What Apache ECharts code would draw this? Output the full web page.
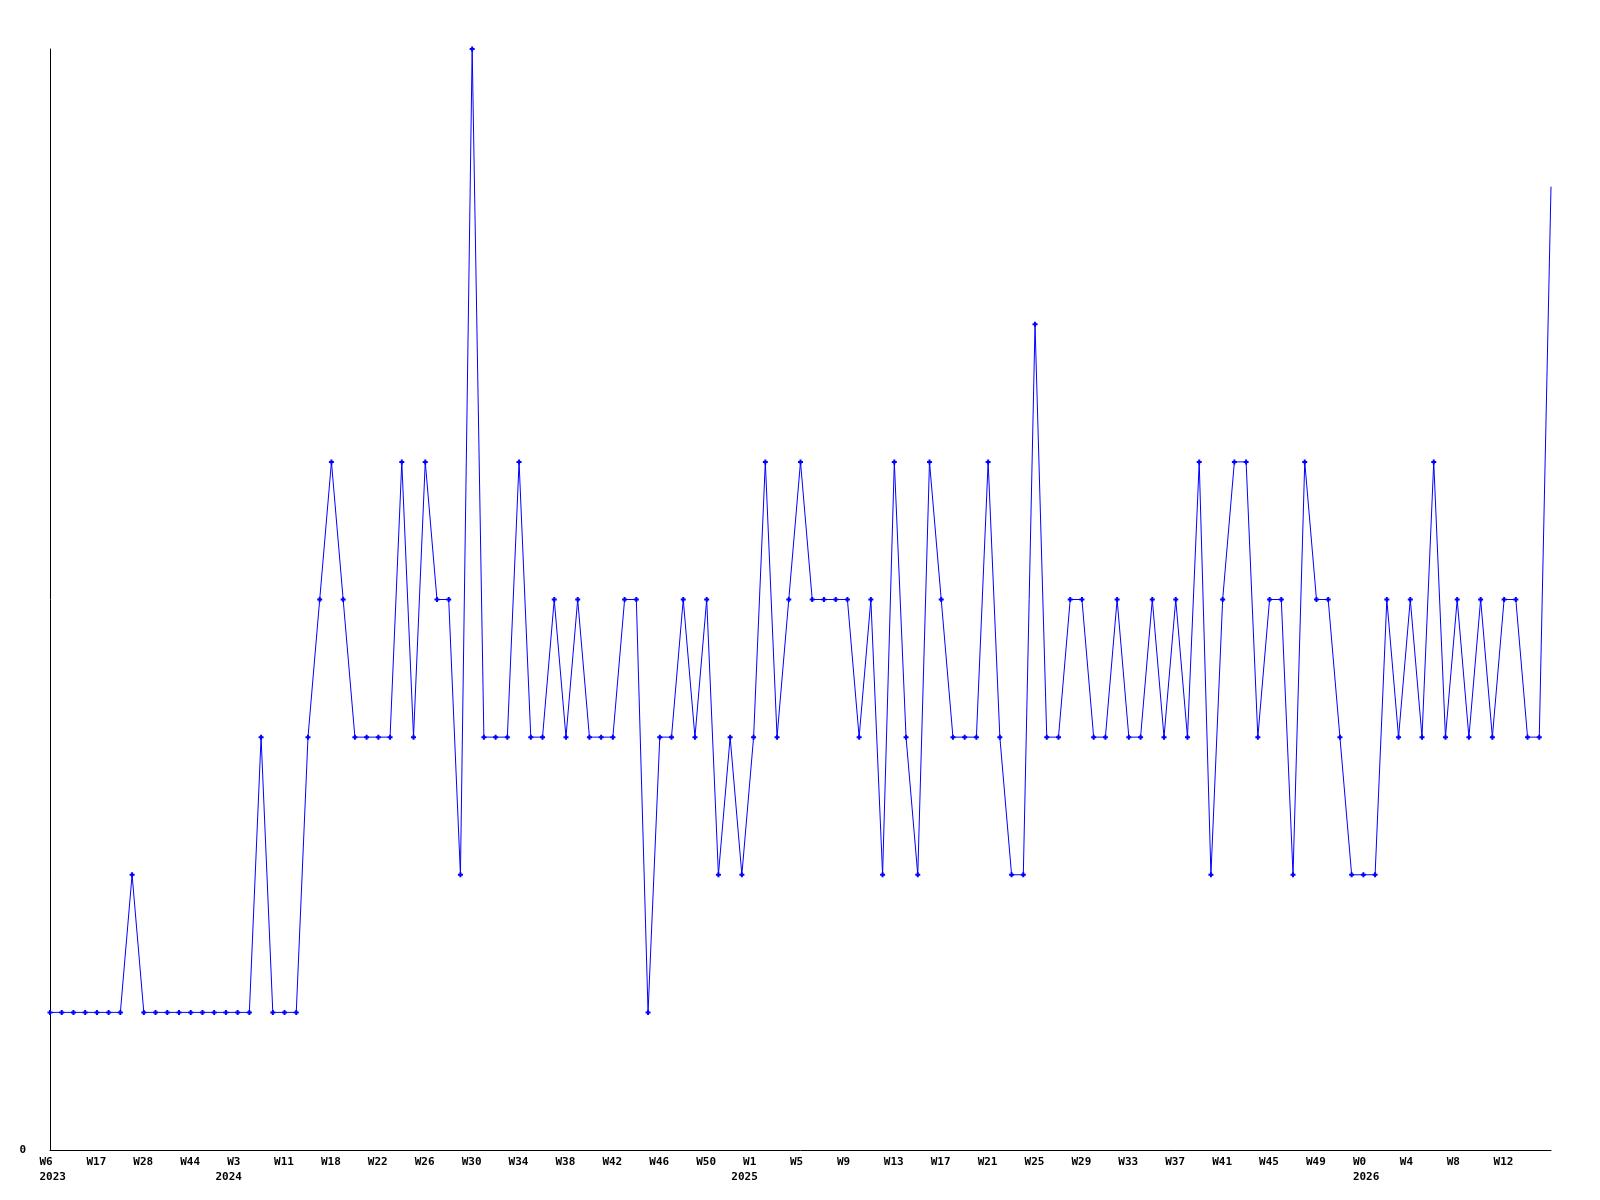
<!DOCTYPE html>
<html>
<head>
<meta charset="utf-8">
<script src="https://cdn.jsdelivr.net/npm/echarts@6/dist/echarts.min.js"></script>
<style>
html,body{margin:0;padding:0;background:#fff;}
#chart{width:1600px;height:1200px;}
</style>
</head>
<body>
<div id="chart"></div>
<script>
// Categories: "YEAR Wn"
const categories = [
  "2023 W6","2023 W9","2023 W11","2023 W14","2023 W17","2023 W20","2023 W22","2023 W25",
  "2023 W28","2023 W32","2023 W36","2023 W40","2023 W44","2023 W47","2023 W50",
  "2024 W1","2024 W3","2024 W5","2024 W7","2024 W9","2024 W11","2024 W14","2024 W16","2024 W17",
  "2024 W18","2024 W19","2024 W20","2024 W21","2024 W22","2024 W23","2024 W24","2024 W25",
  "2024 W26","2024 W27","2024 W28","2024 W29","2024 W30","2024 W31","2024 W32","2024 W33",
  "2024 W34","2024 W35","2024 W36","2024 W37","2024 W38","2024 W39","2024 W40","2024 W41",
  "2024 W42","2024 W43","2024 W44","2024 W45","2024 W46","2024 W47","2024 W48","2024 W49",
  "2024 W50","2024 W51","2024 W52",
  "2025 W0","2025 W1","2025 W2","2025 W3","2025 W4","2025 W5","2025 W6","2025 W7","2025 W8",
  "2025 W9","2025 W10","2025 W11","2025 W12","2025 W13","2025 W14","2025 W15","2025 W16",
  "2025 W17","2025 W18","2025 W19","2025 W20","2025 W21","2025 W22","2025 W23","2025 W24",
  "2025 W25","2025 W26","2025 W27","2025 W28","2025 W29","2025 W30","2025 W31","2025 W32",
  "2025 W33","2025 W34","2025 W35","2025 W36","2025 W37","2025 W38","2025 W39","2025 W40",
  "2025 W41","2025 W42","2025 W43","2025 W44","2025 W45","2025 W46","2025 W47","2025 W48",
  "2025 W49","2025 W50","2025 W51","2025 W52",
  "2026 W0","2026 W1","2026 W2","2026 W3","2026 W4","2026 W5","2026 W6","2026 W7","2026 W8",
  "2026 W9","2026 W10","2026 W11","2026 W12","2026 W13","2026 W14","2026 W15","2026 W16"
];

const values = [
  1,1,1,1,1,1,1,2,1,1,1,1,1,1,1,1,
  1,1,3,1,1,1,3,4,5,4,3,3,3,3,5,3,
  5,4,4,2,8,3,3,3,5,3,3,4,3,4,3,3,
  3,4,4,1,3,3,4,3,4,2,3,2,3,5,3,4,
  5,4,4,4,4,3,4,2,5,3,2,5,4,3,3,3,
  5,3,2,2,6,3,3,4,4,3,3,4,3,3,4,3,
  4,3,5,2,4,5,5,3,4,4,2,5,4,4,3,2,
  2,2,4,3,4,3,5,3,4,3,4,3,4,4,3,3,
  7
];

const yTickLabels = ["0"];

const chart = echarts.init(document.getElementById('chart'), null, {renderer: 'canvas'});
const FONT = '"DejaVu Sans Mono", "Liberation Mono", monospace';
const plusPath = 'path://M1.5,0H3.5V1.5H5V3.5H3.5V5H1.5V3.5H0V1.5H1.5Z';

const yearOf = (i) => categories[i].split(' ')[0];
const weekOf = (i) => categories[i].split(' ')[1];
const isYearStart = (i) => i === 0 || yearOf(i) !== yearOf(i - 1);

const seriesData = values.map((v, i) => (i === values.length - 1 ? {value: v, symbol: 'none'} : v));

const richW = {
  w: {width: 21, align: 'left', color: '#000', fontFamily: FONT, fontWeight: 'bold', fontSize: 11}
};

chart.setOption({
  animation: false,
  backgroundColor: '#ffffff',
  grid: {left: 50, right: 49, top: 49, bottom: 50, containLabel: false},
  xAxis: [{
    type: 'category',
    data: categories,
    boundaryGap: false,
    axisLine: {show: true, lineStyle: {color: '#000', width: 1}},
    axisTick: {show: false},
    splitLine: {show: false},
    axisLabel: {
      interval: 3,
      margin: 7,
      color: '#000',
      fontFamily: FONT,
      fontWeight: 'bold',
      fontSize: 11,
      verticalAlign: 'top',
      showMinLabel: true,
      showMaxLabel: false,
      rich: richW,
      formatter: function (val, idx) { return '{w|' + weekOf(idx) + '}'; }
    }
  }, {
    type: 'category',
    data: categories,
    boundaryGap: false,
    position: 'bottom',
    axisLine: {show: false},
    axisTick: {show: false},
    splitLine: {show: false},
    axisLabel: {
      interval: function (idx) { return isYearStart(idx); },
      margin: 22,
      color: '#000',
      fontFamily: FONT,
      fontWeight: 'bold',
      fontSize: 11,
      verticalAlign: 'top',
      rich: richW,
      formatter: function (val, idx) { return '{w|' + yearOf(idx) + '}'; }
    }
  }],
  yAxis: {
    type: 'value',
    min: 0,
    max: 8,
    interval: 8,
    axisLine: {show: true, lineStyle: {color: '#000', width: 1}},
    axisTick: {show: false},
    splitLine: {show: false},
    axisLabel: {
      margin: 24,
      color: '#000',
      fontFamily: FONT,
      fontWeight: 'bold',
      fontSize: 11,
      formatter: function (v) { return v === 0 ? yTickLabels[0] : ''; }
    }
  },
  series: [{
    type: 'line',
    xAxisIndex: 0,
    data: seriesData,
    symbol: plusPath,
    symbolSize: 5,
    showAllSymbol: true,
    itemStyle: {color: '#0000ff'},
    lineStyle: {color: '#0000ff', width: 1},
    emphasis: {disabled: true}
  }]
});
</script>
</body>
</html>
